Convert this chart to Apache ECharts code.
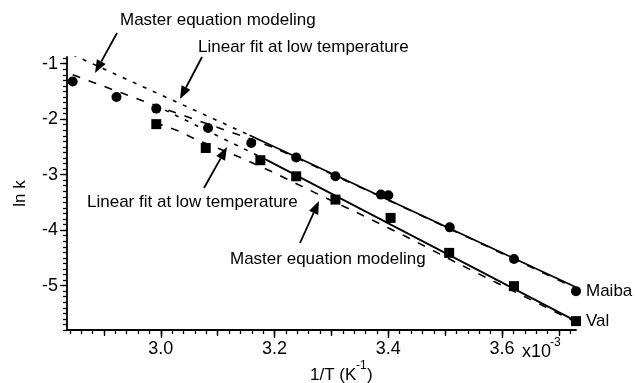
<!DOCTYPE html>
<html>
<head>
<meta charset="utf-8">
<script src="https://cdn.jsdelivr.net/npm/echarts@6/dist/echarts.min.js"></script>
<style>
  html, body { margin: 0; padding: 0; background: #fff; }
  #main { width: 635px; height: 383px; }
</style>
</head>
<body>
<div id="main"></div>
<script>
// measured points, 1/T in units of 1e-3 K^-1
const maibaX = [2.845, 2.922, 2.992, 3.083, 3.159, 3.238, 3.307, 3.387, 3.400, 3.508, 3.621, 3.730];
const maibaY = [-1.32, -1.60, -1.81, -2.16, -2.43, -2.69, -3.03, -3.36, -3.37, -3.95, -4.52, -5.10];
const valX = [2.992, 3.079, 3.175, 3.238, 3.307, 3.404, 3.507, 3.621, 3.730];
const valY = [-2.09, -2.52, -2.74, -3.03, -3.45, -3.78, -4.41, -5.01, -5.64];

// linear fits (solid part = fitted range, dotted = extrapolation)
const maibaFitSolid = [[3.156, -2.29], [3.730, -5.03]];
const maibaFitDotted = [[2.845, -0.84], [3.156, -2.29]];
const valFitSolid = [[3.185, -2.73], [3.730, -5.64]];
const valFitDotted = [[2.990, -1.75], [3.185, -2.73]];

// master equation curves
const meMaibaX = [2.845, 2.90, 2.95, 3.00, 3.05, 3.10, 3.15, 3.20, 3.25, 3.30, 3.40, 3.50, 3.60, 3.73];
const meMaibaY = [-1.20, -1.41, -1.60, -1.79, -1.97, -2.15, -2.33, -2.52, -2.75, -2.99, -3.46, -3.94, -4.42, -5.05];
const meValX = [2.99, 3.03, 3.06, 3.10, 3.14, 3.20, 3.28, 3.35, 3.43, 3.53, 3.64, 3.73];
const meValY = [-2.06, -2.21, -2.36, -2.52, -2.69, -2.97, -3.37, -3.71, -4.11, -4.64, -5.20, -5.66];

const xLabels = [3.0, 3.2, 3.4, 3.6];
const yLabels = [-1, -2, -3, -4, -5];

const FONT = 'Liberation Sans, Arial, sans-serif';

function zip(xs, ys) { return xs.map((x, i) => [x, ys[i]]); }

function ticksBetween(a, b, step) {
  const out = [];
  for (let v = a; v <= b + 1e-9; v += step) out.push(+v.toFixed(3));
  return out;
}

function lastLabel(xs, ys, name) {
  return xs.map((x, i) => i === xs.length - 1
    ? { value: [x, ys[i]], label: { show: true, position: 'right', distance: 5, formatter: name,
        color: '#000', fontSize: 17, fontFamily: FONT } }
    : [x, ys[i]]);
}

function arrow(x1, y1, x2, y2) {
  const a = Math.atan2(y2 - y1, x2 - x1);
  const L = 13, W = 5;
  const bx = x2 - L * Math.cos(a), by = y2 - L * Math.sin(a);
  return [
    { type: 'line', shape: { x1: x1, y1: y1, x2: bx, y2: by }, style: { stroke: '#000', lineWidth: 1.8 } },
    { type: 'polygon', shape: { points: [[x2, y2], [bx + W * Math.sin(a), by - W * Math.cos(a)], [bx - W * Math.sin(a), by + W * Math.cos(a)]] },
      style: { fill: '#000' } }
  ];
}

function text(x, y, s, size, align) {
  return { type: 'text', x: x, y: y, style: { text: s, font: size + 'px ' + FONT, fill: '#000',
    align: align || 'left', verticalAlign: 'middle' } };
}

const chart = echarts.init(document.getElementById('main'));

const xMin = 2.835, xMax = 3.73, yMin = -5.8, yMax = -0.88;

const hiddenX = (vals, len) => ({
  type: 'value', min: xMin, max: xMax, position: 'bottom',
  axisLine: { show: false }, splitLine: { show: false }, axisLabel: { show: false },
  axisTick: { show: true, customValues: vals, length: len, lineStyle: { color: '#000', width: 1.3 } }
});
const hiddenY = (vals, len) => ({
  type: 'value', min: yMin, max: yMax, position: 'left',
  axisLine: { show: false }, splitLine: { show: false }, axisLabel: { show: false },
  axisTick: { show: true, customValues: vals, length: len, lineStyle: { color: '#000', width: 1.3 } }
});

const lineStyle = (type, w) => ({ color: '#000', width: w || 1.6, type: type });

const option = {
  animation: false,
  backgroundColor: '#fff',
  grid: { left: 67, right: 59, top: 57, bottom: 53 },
  xAxis: [
    {
      type: 'value', min: xMin, max: xMax,
      axisLine: { show: true, onZero: false, lineStyle: { color: '#000', width: 1.8 } },
      splitLine: { show: false },
      axisTick: { show: true, customValues: xLabels, length: 8, lineStyle: { color: '#000', width: 1.3 } },
      axisLabel: { customValues: xLabels, color: '#000', fontSize: 18, fontFamily: FONT, margin: 10,
        formatter: v => v.toFixed(1) }
    },
    hiddenX(ticksBetween(2.84, 3.72, 0.02), 4),
    hiddenX(ticksBetween(2.9, 3.7, 0.1), 6)
  ],
  yAxis: [
    {
      type: 'value', min: yMin, max: yMax,
      axisLine: { show: true, onZero: false, lineStyle: { color: '#000', width: 1.8 } },
      splitLine: { show: false },
      axisTick: { show: true, customValues: yLabels, length: 7, lineStyle: { color: '#000', width: 1.3 } },
      axisLabel: { customValues: yLabels, color: '#000', fontSize: 18, fontFamily: FONT, margin: 9 },
      name: 'ln k', nameLocation: 'middle', nameGap: 38, nameRotate: 90,
      nameTextStyle: { color: '#000', fontSize: 17, fontFamily: FONT }
    },
    hiddenY(ticksBetween(-5.8, -0.9, 0.1), 4)
  ],
  graphic: [
    text(120, 20, 'Master equation modeling', 17),
    text(198, 47, 'Linear fit at low temperature', 17),
    text(87, 202, 'Linear fit at low temperature', 17),
    text(230, 259, 'Master equation modeling', 17),
    text(522, 352, 'x10', 18),
    text(550, 343, '-3', 12),
    text(310, 375, '1/T (K', 17),
    text(356, 366, '-1', 12),
    text(367, 375, ')', 17),
    ...arrow(117, 33, 95, 73),
    ...arrow(202, 57, 180, 99),
    ...arrow(204, 188, 227, 147),
    ...arrow(300, 243, 319, 201)
  ],
  series: [
    { type: 'line', data: maibaFitSolid, showSymbol: false, lineStyle: lineStyle('solid', 1.8) },
    { type: 'line', data: maibaFitDotted, showSymbol: false, lineStyle: lineStyle([4, 7]) },
    { type: 'line', data: valFitSolid, showSymbol: false, lineStyle: lineStyle('solid', 1.8) },
    { type: 'line', data: valFitDotted, showSymbol: false, lineStyle: lineStyle([4, 7]) },
    { type: 'line', data: zip(meMaibaX, meMaibaY), showSymbol: false, lineStyle: lineStyle([8, 9]) },
    { type: 'line', data: zip(meValX, meValY), showSymbol: false, lineStyle: lineStyle([8, 9]) },
    { type: 'scatter', symbol: 'circle', symbolSize: 10, clip: false, itemStyle: { color: '#000', opacity: 1 },
      data: lastLabel(maibaX, maibaY, 'Maiba') },
    { type: 'scatter', symbol: 'rect', symbolSize: 10, clip: false, itemStyle: { color: '#000', opacity: 1 },
      data: lastLabel(valX, valY, 'Val') }
  ]
};

chart.setOption(option);
</script>
</body>
</html>
